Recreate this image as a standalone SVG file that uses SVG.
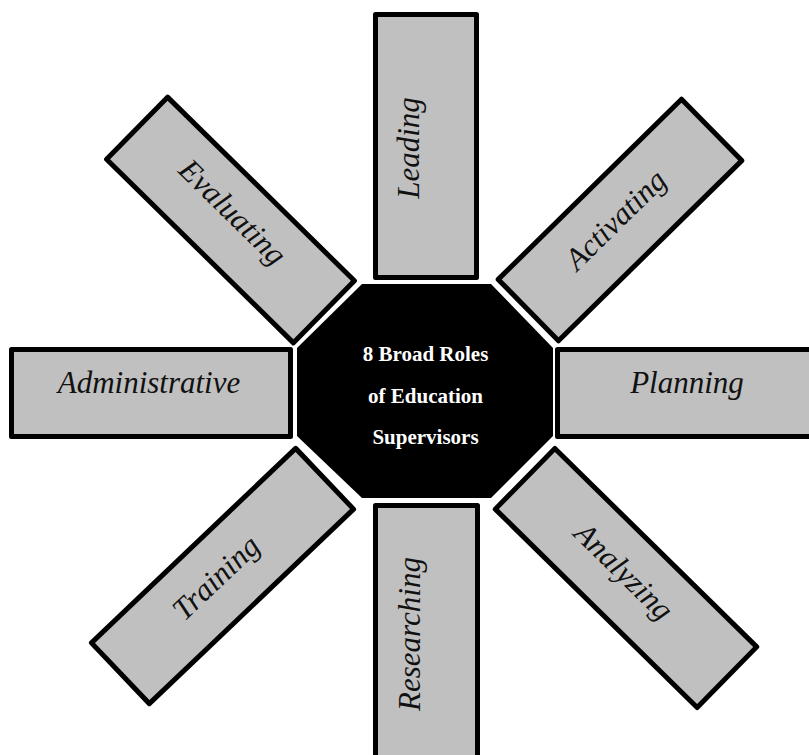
<svg xmlns="http://www.w3.org/2000/svg" width="809" height="755" viewBox="0 0 809 755">
<style>
.box{fill:#C0C0C0;stroke:#000;stroke-width:5;stroke-linejoin:round}
.lbl{font-family:"Liberation Serif","Times New Roman",serif;font-style:italic;font-size:31px;fill:#111;text-anchor:middle}
.ctr{font-family:"Liberation Serif","Times New Roman",serif;font-weight:bold;font-size:21px;fill:#fff;text-anchor:middle}
</style>
<rect width="809" height="755" fill="#fff"/>
<g id="connectors"></g>
<g id="leading">
<rect class="box" x="375.5" y="14.5" width="101" height="263"/>
<text class="lbl" transform="translate(419,148) rotate(-90)">Leading</text>
</g>
<g id="activating">
<g transform="translate(620,220) rotate(-44.5)">
<rect class="box" x="-128.5" y="-43" width="257" height="86"/>
<text class="lbl" x="-3" y="7">Activating</text>
</g>
</g>
<g id="planning">
<rect class="box" x="557.5" y="349.5" width="279" height="87"/>
<text class="lbl" x="687" y="393">Planning</text>
</g>
<g id="analyzing">
<g transform="translate(626,578) rotate(44.5)">
<rect class="box" x="-141.5" y="-42.5" width="283" height="85"/>
<text class="lbl" x="-6" y="7">Analyzing</text>
</g>
</g>
<g id="researching">
<rect class="box" x="375.5" y="505.5" width="102" height="263"/>
<text class="lbl" transform="translate(420,634) rotate(-90)">Researching</text>
</g>
<g id="training">
<g transform="translate(222.5,576) rotate(-43.6)">
<rect class="box" x="-141" y="-42" width="282" height="84"/>
<text class="lbl" x="-6" y="7">Training</text>
</g>
</g>
<g id="administrative">
<rect class="box" x="11.5" y="349.5" width="279" height="87"/>
<text class="lbl" x="149" y="393">Administrative</text>
</g>
<g id="evaluating">
<g transform="translate(230.5,220) rotate(44.5)">
<rect class="box" x="-131" y="-43.5" width="262" height="87"/>
<text class="lbl" x="-4" y="3">Evaluating</text>
</g>
</g>
<g id="center">
<polygon points="362,284 491,284 553,348 553,436 491,498 362,498 297,436 297,348" fill="#000"/>
<text class="ctr" x="425.5" y="361">8 Broad Roles</text>
<text class="ctr" x="425.5" y="402.5">of Education</text>
<text class="ctr" x="425.5" y="444">Supervisors</text>
</g>
</svg>
